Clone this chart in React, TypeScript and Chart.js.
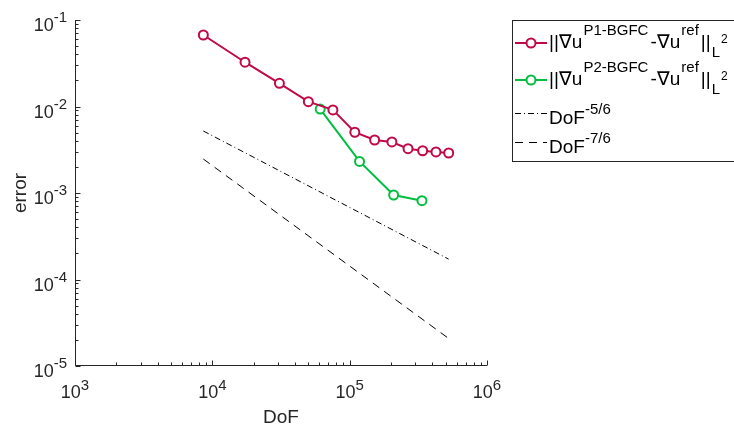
import React, { useEffect, useRef } from 'react';
import { Chart, registerables } from 'chart.js';
Chart.register(...registerables);

const dofP1 = [8.6e3, 1.73e4, 3.08e4, 5.0e4, 7.55e4, 1.09e5, 1.52e5, 2.03e5, 2.66e5, 3.4e5, 4.25e5, 5.26e5];
const errP1 = [0.0671, 0.0325, 0.01854, 0.01138, 0.00913, 0.00504, 0.0041, 0.00389, 0.00325, 0.00308, 0.00298, 0.0029];
const dofP2 = [6.1e4, 1.18e5, 2.09e5, 3.36e5];
const errP2 = [0.00935, 0.00232, 0.000948, 0.000815];
const refDof = [8.6e3, 5.26e5];
const ref56 = [5.21e-3, 1.72e-4];
const ref76 = [2.47e-3, 2.08e-5];
const xTickExps = [3, 4, 5, 6];
const yTickExps = [-5, -4, -3, -2, -1];

const RED = '#BF0A46';
const GREEN = '#00BF40';
const TXT = '#262626';
const FONT = '"Liberation Sans", Arial, Helvetica, sans-serif';

function pts(xs: number[], ys: number[]) {
  return xs.map((x, i) => ({ x, y: ys[i] }));
}

function drawPieces(ctx: CanvasRenderingContext2D, x: number, pieces: [string, number, number, number?][]) {
  let cx = x;
  for (const [t, size, base, gap] of pieces) {
    ctx.font = `${size}px ${FONT}`;
    ctx.fillText(t, cx, base);
    cx += ctx.measureText(t).width + (gap || 0);
  }
  return cx;
}

const axesPlugin = {
  id: 'matlabAxes',
  afterDraw(chart: any) {
    const ctx: CanvasRenderingContext2D = chart.ctx;
    const { left, bottom, top, right } = chart.chartArea;
    const xs = chart.scales.x;
    const ys = chart.scales.y;
    ctx.save();
    ctx.strokeStyle = TXT;
    ctx.fillStyle = TXT;
    ctx.lineWidth = 1;
    const L = Math.round(left) + 0.5;
    const B = Math.round(bottom) - 0.5;
    ctx.beginPath();
    ctx.moveTo(L, Math.round(top));
    ctx.lineTo(L, B);
    ctx.lineTo(Math.round(right), B);
    ctx.stroke();
    ctx.beginPath();
    for (let e = xTickExps[0]; e <= xTickExps[xTickExps.length - 1]; e++) {
      for (let m = 1; m <= 9; m++) {
        const v = m * Math.pow(10, e);
        if (v > 1e6 * 1.0001) break;
        const px = Math.round(xs.getPixelForValue(v)) + 0.5;
        const len = m === 1 ? 5 : 3;
        ctx.moveTo(px, B);
        ctx.lineTo(px, B - len);
      }
    }
    for (let e = yTickExps[0]; e <= yTickExps[yTickExps.length - 1]; e++) {
      for (let m = 1; m <= 9; m++) {
        const v = m * Math.pow(10, e);
        if (v > 0.1 * 1.0001) break;
        const py = Math.round(ys.getPixelForValue(v)) + 0.5;
        const len = m === 1 ? 5 : 3;
        ctx.moveTo(L, py);
        ctx.lineTo(L + len, py);
      }
    }
    ctx.stroke();
    ctx.textAlign = 'left';
    ctx.textBaseline = 'alphabetic';
    for (const e of xTickExps) {
      const px = xs.getPixelForValue(Math.pow(10, e));
      ctx.font = `18px ${FONT}`;
      const w1 = ctx.measureText('10').width;
      ctx.font = `15px ${FONT}`;
      const w2 = ctx.measureText(String(e)).width;
      const x0 = px - (w1 + w2) / 2;
      drawPieces(ctx, x0, [['10', 18, 398], [String(e), 15, 390]]);
    }
    for (const e of yTickExps) {
      const py = ys.getPixelForValue(Math.pow(10, e));
      const sup = String(e);
      ctx.font = `18px ${FONT}`;
      const w1 = ctx.measureText('10').width;
      ctx.font = `15px ${FONT}`;
      const w2 = ctx.measureText(sup).width;
      const x0 = 67 - w1 - w2;
      drawPieces(ctx, x0, [['10', 18, py + 11], [sup, 15, py + 2]]);
    }
    ctx.font = `19px ${FONT}`;
    ctx.textAlign = 'center';
    ctx.fillText('DoF', (left + right) / 2, 423);
    ctx.save();
    ctx.translate(26, (top + bottom) / 2);
    ctx.rotate(-Math.PI / 2);
    ctx.fillText('error', 0, 0);
    ctx.restore();

    // legend
    ctx.textAlign = 'left';
    ctx.fillStyle = '#ffffff';
    ctx.fillRect(512.5, 20.5, 260, 141);
    ctx.strokeStyle = TXT;
    ctx.strokeRect(512.5, 20.5, 260, 141);
    const lx0 = 515, lx1 = 547, lmx = 531, tx = 549;
    const rows = [43, 80];
    const cols = [RED, GREEN];
    const sups = ['P1-BGFC', 'P2-BGFC'];
    rows.forEach((ry, i) => {
      ctx.strokeStyle = cols[i];
      ctx.lineWidth = 2;
      ctx.beginPath();
      ctx.moveTo(lx0, ry);
      ctx.lineTo(lx1, ry);
      ctx.stroke();
      ctx.fillStyle = '#ffffff';
      ctx.beginPath();
      ctx.arc(lmx, ry, 4.5, 0, Math.PI * 2);
      ctx.fill();
      ctx.stroke();
      ctx.fillStyle = '#000000';
      const b = ry + 5;
      let end = drawPieces(ctx, tx, [
        ['||\u2207u', 19, b, 1],
        [sups[i], 15, b - 13, 2],
        ['-\u2207u', 19, b, 1],
        ['ref', 15, b - 13, 2],
        ['||', 19, b, 1],
      ]);
      end = drawPieces(ctx, end, [['L', 15, b + 8.5, 1]]);
      drawPieces(ctx, end, [['2', 12, b - 5]]);
    });
    const refRows: [number, number[], string][] = [
      [113, [6, 3, 1, 3], '-5/6'],
      [142, [8, 6], '-7/6'],
    ];
    refRows.forEach(([ry, dash, sup]) => {
      ctx.strokeStyle = '#000000';
      ctx.lineWidth = 1;
      ctx.setLineDash(dash);
      ctx.beginPath();
      ctx.moveTo(lx0, ry + 0.5);
      ctx.lineTo(lx1, ry + 0.5);
      ctx.stroke();
      ctx.setLineDash([]);
      ctx.fillStyle = '#000000';
      drawPieces(ctx, tx, [['DoF', 19, ry + 10.5], [sup, 15, ry + 0.5]]);
    });
    ctx.restore();
  },
};

export default function App() {
  const ref = useRef<HTMLCanvasElement>(null);
  useEffect(() => {
    const chart = new Chart(ref.current!, {
      type: 'line',
      data: {
        datasets: [
          {
            data: pts(dofP1, errP1),
            borderColor: RED,
            borderWidth: 2,
            pointRadius: 4.5,
            pointBorderWidth: 2,
            pointBackgroundColor: '#ffffff',
            pointBorderColor: RED,
            tension: 0,
          },
          {
            data: pts(dofP2, errP2),
            borderColor: GREEN,
            borderWidth: 2,
            pointRadius: 4.5,
            pointBorderWidth: 2,
            pointBackgroundColor: '#ffffff',
            pointBorderColor: GREEN,
            tension: 0,
          },
          {
            data: pts(refDof, ref56),
            borderColor: '#000000',
            borderWidth: 1,
            borderDash: [6, 3, 1, 3],
            pointRadius: 0,
          },
          {
            data: pts(refDof, ref76),
            borderColor: '#000000',
            borderWidth: 1,
            borderDash: [8, 6],
            pointRadius: 0,
          },
        ],
      },
      options: {
        animation: false,
        responsive: false,
        devicePixelRatio: 1,
        layout: { padding: { left: 0, top: 20, right: 247, bottom: 0 } },
        plugins: { legend: { display: false }, tooltip: { enabled: false } },
        scales: {
          x: {
            type: 'logarithmic',
            min: 1e3,
            max: 1e6,
            ticks: { display: false },
            grid: { display: false },
            border: { display: false },
            afterFit: (s: any) => { s.height = 61; },
          },
          y: {
            type: 'logarithmic',
            min: 1e-5,
            max: 1e-1,
            ticks: { display: false },
            grid: { display: false },
            border: { display: false },
            afterFit: (s: any) => { s.width = 75; },
          },
        },
      },
      plugins: [axesPlugin],
    });
    return () => chart.destroy();
  }, []);
  return (
    <div style={{ position: 'fixed', left: 0, top: 0, width: 734, height: 427, background: '#fff' }}>
      <canvas ref={ref} width={734} height={427} />
    </div>
  );
}
